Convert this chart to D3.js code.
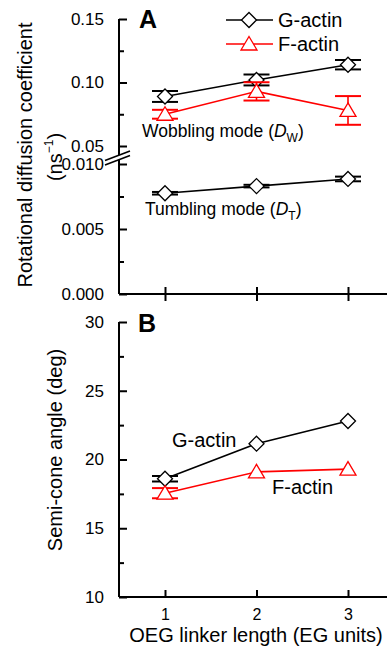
<!DOCTYPE html>
<html>
<head>
<meta charset="utf-8">
<script src="https://cdn.jsdelivr.net/npm/d3@7"></script>
<style>
  html, body { margin: 0; padding: 0; background: #fff; }
  svg { display: block; font-family: "Liberation Sans", Arial, sans-serif; }
</style>
</head>
<body>
<svg id="chart" width="387" height="647"></svg>
<script>
// linker length (EG units)
const linker = [1, 2, 3];

// panel A: rotational diffusion coefficients (ns^-1)
const gWobble = [0.089, 0.102, 0.114];
const gWobbleErr = [0.0043, 0.0043, 0.0037];
const fWobble = [0.075, 0.093, 0.078];
const fWobbleErr = [0.0035, 0.0072, 0.0113];
const gTumble = [0.00775, 0.0083, 0.00885];
const gTumbleErr = [0.0001, 0.0001, 0.00018];

// panel B: semi-cone angle (deg)
const gCone = [18.6, 21.15, 22.8];
const gConeErr = [0.2, 0, 0];
const fCone = [17.55, 19.1, 19.3];
const fConeErr = [0.37, 0, 0];

const upperTicks = [0.05, 0.10, 0.15];
const upperMinor = [0.075, 0.125];
const lowerTicks = [0.000, 0.005, 0.010];
const lowerMinor = [0.0025, 0.0075];
const coneTicks = [10, 15, 20, 25, 30];
const coneMinor = [12.5, 17.5, 22.5, 27.5];

const BLACK = "#000";
const RED = "#ff0000";

const svg = d3.select("#chart");
const axisX0 = 119;
const axisX1 = 387;

const x = d3.scaleLinear().domain([1, 3]).range([165, 348]);
const yUp = d3.scaleLinear().domain([0.05, 0.15]).range([146, 19]);
const yLow = d3.scaleLinear().domain([0, 0.01]).range([294, 164]);
const yB = d3.scaleLinear().domain([10, 30]).range([597, 322]);

drawYAxis(yUp, upperTicks, upperMinor, d3.format(".2f"));
drawYAxis(yLow, lowerTicks, lowerMinor, d3.format(".3f"));
drawYAxis(yB, coneTicks, coneMinor, d3.format("d"));

// axis lines
svg.append("line").attr("x1", axisX0).attr("x2", axisX0).attr("y1", 19).attr("y2", 294)
  .attr("stroke", BLACK).attr("stroke-width", 2);
svg.append("line").attr("x1", axisX0).attr("x2", axisX0).attr("y1", 322).attr("y2", 597)
  .attr("stroke", BLACK).attr("stroke-width", 2);

// axis break
svg.append("path")
  .attr("d", "M105,160.5 L130,151 L130,155.5 L105,165 Z")
  .attr("fill", "#fff");
svg.append("line").attr("x1", 105).attr("y1", 160.5).attr("x2", 130).attr("y2", 151)
  .attr("stroke", BLACK).attr("stroke-width", 1.6);
svg.append("line").attr("x1", 105).attr("y1", 165).attr("x2", 130).attr("y2", 155.5)
  .attr("stroke", BLACK).attr("stroke-width", 1.6);

// x axis A (ticks crossing, no labels)
const xAxisA = svg.append("g").attr("transform", "translate(0,294)")
  .call(d3.axisBottom(x).tickValues(linker).tickSize(7).tickFormat(""));
xAxisA.select(".domain").remove();
xAxisA.selectAll(".tick line").attr("y1", -7).attr("y2", 7).attr("stroke-width", 2);
svg.append("line").attr("x1", axisX0).attr("x2", axisX1).attr("y1", 294).attr("y2", 294)
  .attr("stroke", BLACK).attr("stroke-width", 2);

// x axis B
const xAxisB = svg.append("g").attr("transform", "translate(0,597)")
  .call(d3.axisBottom(x).tickValues(linker).tickSize(-7).tickPadding(12).tickFormat(d3.format("d")));
xAxisB.select(".domain").remove();
xAxisB.selectAll(".tick line").attr("stroke-width", 2);
xAxisB.selectAll("text").attr("font-size", 16).attr("fill", BLACK).attr("font-family", null);
svg.append("line").attr("x1", axisX0).attr("x2", axisX1).attr("y1", 597).attr("y2", 597)
  .attr("stroke", BLACK).attr("stroke-width", 2);

// series
drawSeries(yUp, gWobble, gWobbleErr, BLACK, "diamond");
drawSeries(yUp, fWobble, fWobbleErr, RED, "triangle");
drawSeries(yLow, gTumble, gTumbleErr, BLACK, "diamond");
drawSeries(yB, gCone, gConeErr, BLACK, "diamond");
drawSeries(yB, fCone, fConeErr, RED, "triangle");

// legend
const legendRows = [
  { label: "G-actin", color: BLACK, shape: "diamond", y: 20 },
  { label: "F-actin", color: RED, shape: "triangle", y: 44 }
];
legendRows.forEach((r) => {
  svg.append("line").attr("x1", 226).attr("x2", 273).attr("y1", r.y).attr("y2", r.y)
    .attr("stroke", r.color).attr("stroke-width", 1.5);
  drawMarker(249, r.y, r.color, r.shape);
  svg.append("text").attr("x", 278).attr("y", r.y + 7).attr("font-size", 20).text(r.label);
});

// panel letters
svg.append("text").attr("x", 139).attr("y", 28).attr("font-size", 25).attr("font-weight", "bold").text("A");
svg.append("text").attr("x", 138).attr("y", 332).attr("font-size", 25).attr("font-weight", "bold").text("B");

// annotations
const wob = svg.append("text").attr("x", 142).attr("y", 137).attr("font-size", 17.5);
wob.append("tspan").text("Wobbling mode (");
wob.append("tspan").attr("font-style", "italic").text("D");
wob.append("tspan").attr("font-size", 12).attr("dy", 5).text("W");
wob.append("tspan").attr("dy", -5).text(")");

const tum = svg.append("text").attr("x", 145).attr("y", 215).attr("font-size", 17.5);
tum.append("tspan").text("Tumbling mode (");
tum.append("tspan").attr("font-style", "italic").text("D");
tum.append("tspan").attr("font-size", 12).attr("dy", 5).text("T");
tum.append("tspan").attr("dy", -5).text(")");

svg.append("text").attr("x", 172).attr("y", 447).attr("font-size", 20).text("G-actin");
svg.append("text").attr("x", 272).attr("y", 494).attr("font-size", 20).text("F-actin");

// axis titles
svg.append("text").attr("transform", "translate(32,155) rotate(-90)")
  .attr("text-anchor", "middle").attr("font-size", 20).text("Rotational diffusion coefficient");
const unit = svg.append("text").attr("transform", "translate(62,157) rotate(-90)")
  .attr("text-anchor", "middle").attr("font-size", 20);
unit.append("tspan").text("(ns");
unit.append("tspan").attr("font-size", 12).attr("dy", -9).text("−1");
unit.append("tspan").attr("dy", 9).text(")");

svg.append("text").attr("transform", "translate(62,450) rotate(-90)")
  .attr("text-anchor", "middle").attr("font-size", 20).text("Semi-cone angle (deg)");
svg.append("text").attr("x", 256).attr("y", 642).attr("text-anchor", "middle")
  .attr("font-size", 20).text("OEG linker length (EG units)");

function drawYAxis(scale, ticks, minor, fmt) {
  const g = svg.append("g").attr("transform", `translate(${axisX0},0)`)
    .call(d3.axisLeft(scale).tickValues(ticks).tickSize(-8).tickPadding(15).tickFormat(fmt));
  g.select(".domain").remove();
  g.selectAll(".tick line").attr("stroke-width", 2);
  g.selectAll("text").attr("font-size", 17).attr("fill", BLACK).attr("font-family", null);
  const m = svg.append("g").attr("transform", `translate(${axisX0},0)`)
    .call(d3.axisLeft(scale).tickValues(minor).tickSize(-5).tickFormat(""));
  m.select(".domain").remove();
  m.selectAll(".tick line").attr("stroke-width", 2);
}

function drawSeries(yScale, values, errs, color, shape) {
  const pts = linker.map((d, i) => ({ x: d, y: values[i], e: errs[i] }));
  svg.append("path").datum(pts)
    .attr("fill", "none").attr("stroke", color).attr("stroke-width", 1.6)
    .attr("d", d3.line().x((d) => x(d.x)).y((d) => yScale(d.y)));
  pts.forEach((p) => {
    if (p.e > 0) {
      const cx = x(p.x);
      const top = yScale(p.y + p.e);
      const bot = yScale(p.y - p.e);
      svg.append("line").attr("x1", cx).attr("x2", cx).attr("y1", top).attr("y2", bot)
        .attr("stroke", color).attr("stroke-width", 1.6);
      [top, bot].forEach((yy) => {
        svg.append("line").attr("x1", cx - 13).attr("x2", cx + 13).attr("y1", yy).attr("y2", yy)
          .attr("stroke", color).attr("stroke-width", 2);
      });
    }
  });
  pts.forEach((p) => drawMarker(x(p.x), yScale(p.y), color, shape));
}

function drawMarker(cx, cy, color, shape) {
  let d;
  if (shape === "diamond") {
    d = `M${cx},${cy - 7.5} L${cx + 7.5},${cy} L${cx},${cy + 7.5} L${cx - 7.5},${cy} Z`;
  } else {
    d = `M${cx},${cy - 7.5} L${cx + 8},${cy + 6} L${cx - 8},${cy + 6} Z`;
  }
  svg.append("path").attr("d", d).attr("fill", "#fff").attr("stroke", color).attr("stroke-width", 1.3);
}
</script>
</body>
</html>
